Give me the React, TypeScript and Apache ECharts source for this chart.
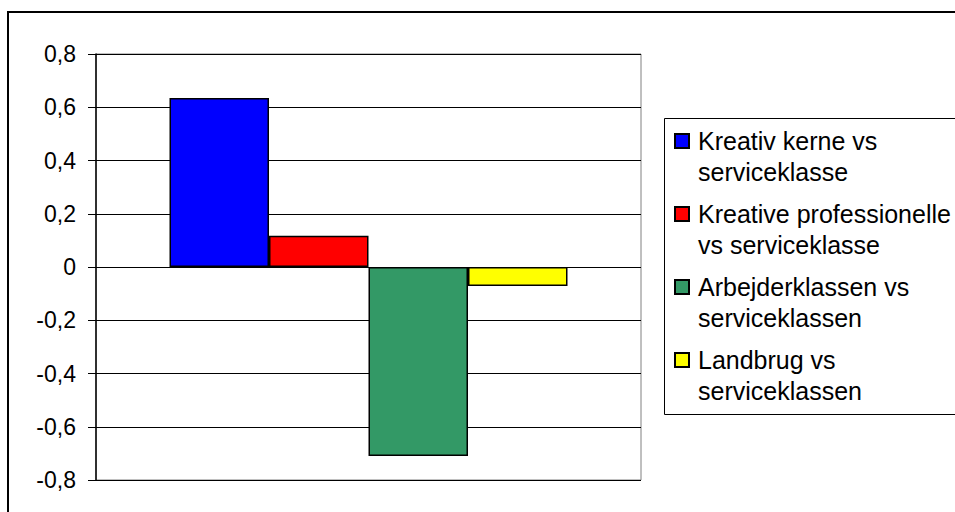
import React, { useEffect, useRef } from "react";
import * as echarts from "echarts";

const categories = [""];
const seriesNames = [
  "Kreativ kerne vs\nserviceklasse",
  "Kreative professionelle\nvs serviceklasse",
  "Arbejderklassen vs\nserviceklassen",
  "Landbrug vs\nserviceklassen",
];
const seriesValues = [0.635, 0.117, -0.71, -0.071];
const seriesColors = ["#0000FF", "#FF0000", "#339966", "#FFFF00"];
const yMin = -0.8;
const yMax = 0.8;
const yInterval = 0.2;

const FONT = "'Liberation Sans', Arial, sans-serif";

export default function App() {
  const ref = useRef<HTMLDivElement>(null);
  useEffect(() => {
    if (!ref.current) return;
    const chart = echarts.init(ref.current, undefined, { renderer: "svg" });
    chart.setOption({
      animation: false,
      backgroundColor: "#ffffff",
      textStyle: { fontFamily: FONT },
      grid: {
        left: 96,
        top: 54,
        width: 545,
        height: 426,
        show: true,
        borderColor: "#808080",
        borderWidth: 1,
        backgroundColor: "#ffffff",
        containLabel: false,
      },
      xAxis: {
        type: "category",
        data: categories,
        axisLine: { show: false },
        axisTick: { show: false },
        axisLabel: { show: false },
        splitLine: { show: false },
      },
      yAxis: {
        type: "value",
        min: yMin,
        max: yMax,
        interval: yInterval,
        axisLine: { show: true, lineStyle: { color: "#000", width: 1.5 } },
        axisTick: { show: true, length: 8, inside: false, lineStyle: { color: "#000", width: 1 } },
        axisLabel: {
          margin: 20,
          color: "#000",
          fontSize: 23,
          fontFamily: FONT,
          formatter: (v: number) =>
            Math.abs(v) < 1e-9 ? "0" : v.toFixed(1).replace(".", ","),
        },
        splitLine: { show: true, lineStyle: { color: "#000", width: 1 } },
      },
      legend: {
        orient: "vertical",
        left: 674,
        top: 94.5,
        padding: 0,
        itemGap: -20,
        itemWidth: 14,
        itemHeight: 14,
        icon: "rect",
        selectedMode: false,
        data: seriesNames,
        formatter: (name: string) => "\n" + name,
        textStyle: {
          fontSize: 25,
          fontFamily: FONT,
          color: "#000",
          lineHeight: 31,
          padding: [0, 0, 0, 4],
        },
      },
      graphic: [
        {
          type: "rect",
          shape: { x: 8, y: 12, width: 1000, height: 600 },
          style: { fill: "none", stroke: "#000", lineWidth: 2 },
          silent: true,
          z: -10,
        },
        {
          type: "rect",
          shape: { x: 664.5, y: 118.5, width: 400, height: 296 },
          style: { fill: "none", stroke: "#000", lineWidth: 1 },
          silent: true,
        },
      ],
      series: seriesNames.map((name, i) => ({
        name,
        type: "bar",
        data: [seriesValues[i]],
        barWidth: 99.5,
        barGap: "0%",
        itemStyle: {
          color: seriesColors[i],
          borderColor: "#000",
          borderWidth: 1.5,
        },
      })),
    });
    return () => chart.dispose();
  }, []);
  return (
    <div
      ref={ref}
      style={{ position: "fixed", left: 0, top: 0, width: 955, height: 512 }}
    />
  );
}
